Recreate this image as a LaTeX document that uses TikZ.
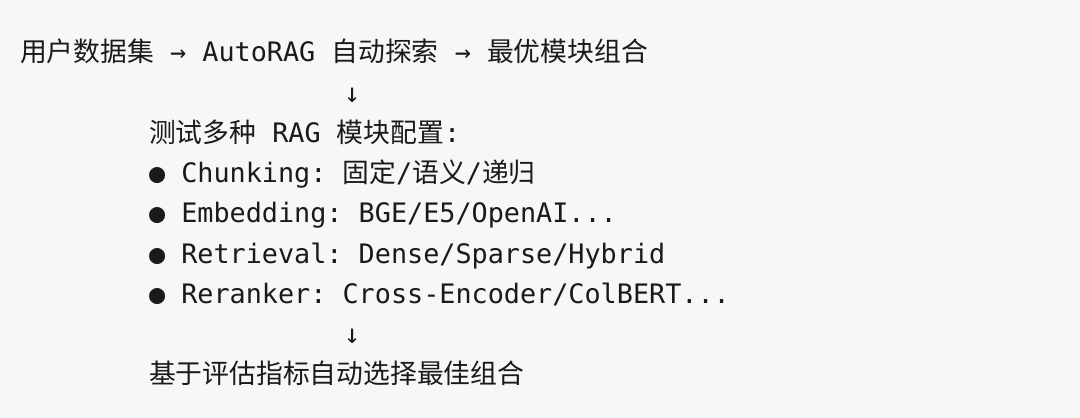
\documentclass[tikz,border=0pt]{standalone}
\usepackage{fontspec}
\setmainfont{DejaVu Sans Mono}
\newfontfamily\cjkfont{Noto Sans CJK SC}
\newcommand\zh[1]{{\cjkfont #1}}
\definecolor{bgcol}{HTML}{F7F7F9}
\definecolor{txtcol}{HTML}{1A1A1A}
\frenchspacing
\begin{document}
\begin{tikzpicture}[x=1pt,y=1pt,
  codeline/.style={anchor=base west, inner sep=0pt, outer sep=0pt, text=txtcol,
    font=\fontsize{26.8}{40}\selectfont\frenchspacing}]
\fill[bgcol] (0,0) rectangle (1080,418);
\useasboundingbox (0,0) rectangle (1080,418);
\node[codeline] (l1) at (20,{418-62}) {\zh{用户数据集} → AutoRAG \zh{自动探索} → \zh{最优模块组合}};
\node[codeline] (a1) at (344,{418-102.25}) {↓};
\node[codeline] (l3) at (149,{418-142.5}) {\zh{测试多种} RAG \zh{模块配置}:};
\node[codeline] (l4) at (149,{418-182.75}) {● Chunking: \zh{固定}/\zh{语义}/\zh{递归}};
\node[codeline] (l5) at (149,{418-223}) {● Embedding: BGE/E5/OpenAI...};
\node[codeline] (l6) at (149,{418-263.25}) {● Retrieval: Dense/Sparse/Hybrid};
\node[codeline] (l7) at (149,{418-303.5}) {● Reranker: Cross-Encoder/ColBERT...};
\node[codeline] (a2) at (344,{418-343.75}) {↓};
\node[codeline] (l9) at (149,{418-384}) {\zh{基于评估指标自动选择最佳组合}};
\end{tikzpicture}
\end{document}
